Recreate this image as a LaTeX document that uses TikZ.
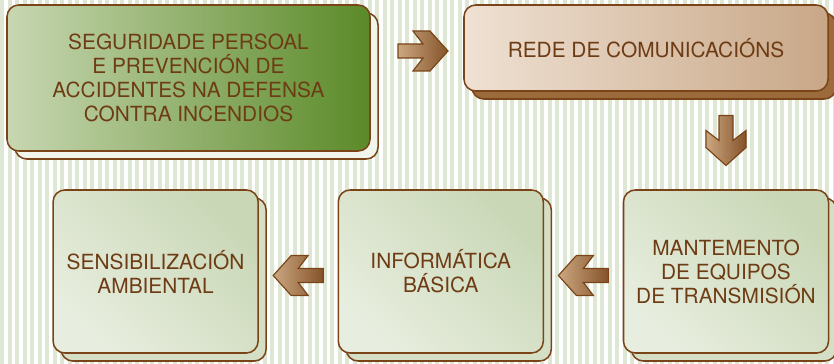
\documentclass[tikz,border=0pt]{standalone}
\usepackage{fontspec}
\setmainfont{TeX Gyre Heros}
\usetikzlibrary{positioning,calc,shadows}

\definecolor{bordebrown}{HTML}{7A4418}
\definecolor{textbrown}{HTML}{6E3C14}
\definecolor{stripegreen}{HTML}{DEE7D3}
\definecolor{palegreen}{HTML}{E8EEDF}
\definecolor{leafgreen}{HTML}{C9D7B6}
\definecolor{mossgreen}{HTML}{C8D7B2}
\definecolor{darkgreen}{HTML}{5B8A28}
\definecolor{sandlight}{HTML}{EFE1D3}
\definecolor{sanddark}{HTML}{C8A787}
\definecolor{shadebrown}{HTML}{9C6B3C}
\definecolor{arrowlight}{HTML}{CBA780}
\definecolor{arrowdark}{HTML}{85532A}

\tikzset{
  course/.style={draw=bordebrown,line width=1.3pt,rounded corners=10pt,
    align=center,text=textbrown,inner sep=0pt,
    font=\fontsize{17.8}{20.5}\selectfont},
  leafbox/.style={course,minimum width=6.15cm,minimum height=4.89cm,
    bottom color=palegreen,top color=leafgreen,shading angle=-45,
    general shadow={shadow xshift=0.24cm,shadow yshift=-0.24cm,
      fill=leafgreen!80!white,draw=bordebrown,line width=1.3pt}},
  arrowbody/.style={draw=bordebrown,line width=1pt,line join=miter,
    left color=arrowlight,right color=arrowdark},
  pics/flowarrow/.style={code={
    \path[arrowbody] (-25,-7) -- (-25,7) -- (0,7) -- (-10,20) -- (7,20)
      -- (25,0) -- (7,-20) -- (-10,-20) -- (0,-7) -- cycle;}}
}

\begin{document}
\begin{tikzpicture}[x=0.03cm,y=0.03cm]
  \useasboundingbox (0,0) rectangle (834,364);
  % striped background
  \foreach \i in {0,...,111}
    \fill[stripegreen] ({\i*7.5},0) rectangle ++(4,364);

  \node[course,minimum width=10.89cm,minimum height=4.38cm,
    left color=mossgreen,right color=darkgreen,
    general shadow={shadow xshift=0.24cm,shadow yshift=-0.24cm,
      fill=palegreen!60!white,draw=bordebrown,line width=1.3pt}]
    (b1) at (188.5,286)
    {SEGURIDADE PERSOAL\\E PREVENCIÓN DE\\ACCIDENTES NA DEFENSA\\CONTRA INCENDIOS};
  \node[course,minimum width=10.92cm,minimum height=2.58cm,
    left color=sandlight,right color=sanddark,
    general shadow={shadow xshift=0.24cm,shadow yshift=-0.24cm,
      fill=shadebrown,draw=bordebrown,line width=1.3pt}]
    (b2) at (646,316) {REDE DE COMUNICACIÓNS};

  \node[leafbox] (b3) at (726,92.5) {MANTEMENTO\\DE EQUIPOS\\DE TRANSMISIÓN};
  \node[leafbox] (b4) [left=2.36cm of b3] {INFORMÁTICA\\BÁSICA};
  \node[leafbox] (b5) [left=2.36cm of b4] {SENSIBILIZACIÓN\\AMBIENTAL};

  \pic at ($($(b1.east |- b2)!0.5!(b2.west)$)+(6,-3)$) {flowarrow};
  \pic[rotate=-90] at ($(b2.south -| b3)!0.5!(b3.north)$) {flowarrow};
  \pic[rotate=180] at ($($(b3.west)!0.5!(b4.east)$)+(0,-4)$) {flowarrow};
  \pic[rotate=180] at ($($(b4.west)!0.5!(b5.east)$)+(0,-4)$) {flowarrow};
\end{tikzpicture}
\end{document}
